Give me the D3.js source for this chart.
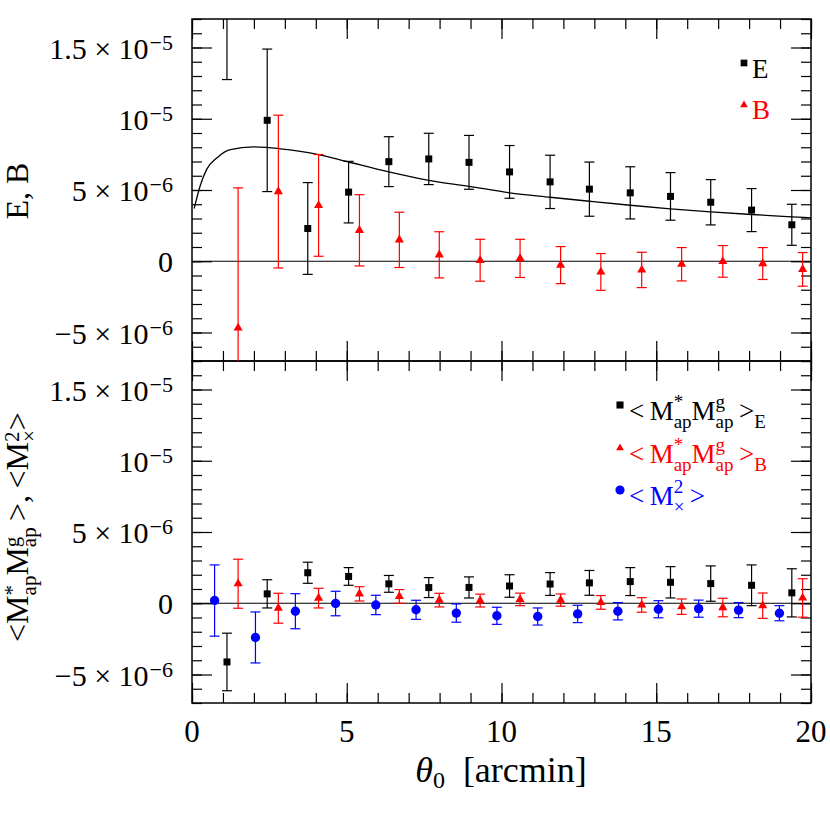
<!DOCTYPE html>
<html lang="en">
<head>
<meta charset="utf-8">
<title>E / B aperture mass</title>
<script src="https://cdn.jsdelivr.net/npm/d3@7"></script>
<style>
  body { margin: 0; background: #fff; }
  svg text { font-family: "Liberation Serif", "Times New Roman", serif; fill: #000; }
</style>
</head>
<body>
<div id="chart"></div>
<script>
// all signal values are in units of 1e-6

// x positions (theta_0, arcmin)
const thetaE = [1.13, 2.43, 3.74, 5.06, 6.36, 7.65, 8.95, 10.26, 11.57, 12.84, 14.16, 15.46, 16.76, 18.08, 19.38];
const thetaB = [1.49, 2.79, 4.09, 5.41, 6.70, 7.99, 9.31, 10.60, 11.91, 13.21, 14.53, 15.82, 17.15, 18.44, 19.73];
const thetaX = [0.73, 2.05, 3.34, 4.64, 5.94, 7.24, 8.54, 9.85, 11.17, 12.46, 13.76, 15.07, 16.37, 17.66, 18.98];

// top panel: E and B modes
const topE    = [21.0, 9.89, 2.30, 4.85, 6.99, 7.18, 6.94, 6.27, 5.57, 5.06, 4.80, 4.55, 4.14, 3.59, 2.56];
const topEerr = [8.25, 5.00, 3.22, 2.16, 1.75, 1.80, 1.89, 1.85, 1.87, 1.90, 1.83, 1.67, 1.59, 1.51, 1.44];
const topB    = [-4.68, 4.89, 3.92, 2.17, 1.50, 0.45, 0.07, 0.20, -0.27, -0.75, -0.61, -0.21, -0.01, -0.16, -0.57];
const topBerr = [9.83, 5.36, 3.57, 2.50, 1.94, 1.62, 1.47, 1.34, 1.30, 1.29, 1.24, 1.17, 1.11, 1.12, 1.18];

// model curve (top panel)
const modelX = [0.07, 0.26, 0.47, 0.80, 1.24, 1.98, 2.41, 2.79, 4.09, 5.00, 6.36, 7.65, 8.95, 10.26, 11.57, 12.84, 14.16, 15.46, 16.76, 18.08, 19.38, 20.0];
const modelY = [3.70, 5.26, 6.43, 7.25, 7.84, 8.03, 7.99, 7.91, 7.49, 7.00, 6.27, 5.68, 5.26, 4.80, 4.49, 4.21, 3.93, 3.68, 3.47, 3.28, 3.12, 3.04];

// bottom panel: cross terms and B-mode
const botE    = [-4.12, 0.66, 2.14, 1.88, 1.36, 1.10, 1.11, 1.21, 1.35, 1.43, 1.52, 1.47, 1.38, 1.26, 0.73];
const botEerr = [2.02, 0.99, 0.74, 0.62, 0.59, 0.70, 0.74, 0.79, 0.80, 0.87, 0.98, 1.10, 1.24, 1.43, 1.69];
const botB    = [1.37, -0.35, 0.36, 0.66, 0.48, 0.22, 0.19, 0.27, 0.22, 0.06, -0.12, -0.24, -0.30, -0.17, 0.37];
const botBerr = [1.72, 1.05, 0.69, 0.50, 0.48, 0.48, 0.45, 0.44, 0.43, 0.48, 0.51, 0.54, 0.65, 0.89, 1.35];
const botX    = [0.19, -2.40, -0.56, -0.02, -0.12, -0.46, -0.69, -0.88, -0.93, -0.75, -0.56, -0.42, -0.38, -0.48, -0.70];
const botXerr = [2.50, 1.79, 1.23, 0.86, 0.68, 0.67, 0.64, 0.60, 0.60, 0.61, 0.61, 0.60, 0.60, 0.53, 0.53];

// tick labels
const xTickVals = [0, 5, 10, 15, 20];
const yTickVals = [-5, 0, 5, 10, 15];
const yTickMant = ["\u22125\u2005\u00d7\u200510", "0", "5\u2005\u00d7\u200510", "10", "1.5\u2005\u00d7\u200510"];
const yTickExp  = ["\u22126", "", "\u22126", "\u22125", "\u22125"];

const W = 830, H = 830;
const left = 192, right = 811;
const panels = [{top: 19, bottom: 361}, {top: 361, bottom: 703}];

const svg = d3.select("#chart").append("svg")
  .attr("width", W).attr("height", H);

const x = d3.scaleLinear().domain([0, 20]).range([left, right]);

// writes a math-ish label with stacked super/subscripts as tspans
function mathLabel(text, parts, fs, sfs, up, down) {
  let cur = 0;
  parts.forEach(p => {
    if (typeof p === "string") {
      text.append("tspan").attr("dy", -cur).style("font-size", fs + "px").text(p);
      cur = 0;
    } else {
      let w = 0;
      if (p.sup) {
        const t = text.append("tspan").attr("dy", -up - cur)
          .style("font-size", sfs + "px").text(p.sup);
        cur = -up;
        w = t.node().getComputedTextLength();
      }
      if (p.sub) {
        text.append("tspan").attr("dx", -w).attr("dy", down - cur)
          .style("font-size", sfs + "px").text(p.sub);
        cur = down;
      }
    }
  });
}

const ys = panels.map((p, i) => {
  const y = d3.scaleLinear().domain([-7, 17]).range([p.bottom, p.top]);

  svg.append("clipPath").attr("id", "clip" + i)
    .append("rect").attr("x", left).attr("y", p.top)
    .attr("width", right - left).attr("height", p.bottom - p.top);

  // ticks, all pointing inward
  const tk = (axis, tr) => svg.append("g").attr("transform", tr).call(axis)
    .call(g => g.select(".domain").remove())
    .call(g => g.selectAll("line").attr("stroke", "#000").attr("stroke-width", 1.2));

  tk(d3.axisBottom(x).tickValues(xTickVals).tickSize(-20).tickFormat(""), `translate(0,${p.bottom})`);
  tk(d3.axisBottom(x).tickValues(d3.range(0, 21, 1)).tickSize(-10).tickFormat(""), `translate(0,${p.bottom})`);
  tk(d3.axisTop(x).tickValues(xTickVals).tickSize(-20).tickFormat(""), `translate(0,${p.top})`);
  tk(d3.axisTop(x).tickValues(d3.range(0, 21, 1)).tickSize(-10).tickFormat(""), `translate(0,${p.top})`);
  tk(d3.axisLeft(y).tickValues(yTickVals).tickSize(-20).tickFormat(""), `translate(${left},0)`);
  tk(d3.axisLeft(y).tickValues(d3.range(-7, 18, 1)).tickSize(-10).tickFormat(""), `translate(${left},0)`);
  tk(d3.axisRight(y).tickValues(yTickVals).tickSize(-20).tickFormat(""), `translate(${right},0)`);
  tk(d3.axisRight(y).tickValues(d3.range(-7, 18, 1)).tickSize(-10).tickFormat(""), `translate(${right},0)`);

  // y tick labels
  yTickVals.forEach((v, k) => {
    const t = svg.append("text").attr("x", 173).attr("y", y(v) + 11)
      .attr("text-anchor", "end").style("font-size", "30px");
    t.append("tspan").text(yTickMant[k]);
    if (yTickExp[k]) t.append("tspan").attr("dx", 1).attr("dy", -9).style("font-size", "22px").text(yTickExp[k]);
  });

  // zero line
  svg.append("line").attr("x1", left).attr("x2", right)
    .attr("y1", y(0)).attr("y2", y(0))
    .attr("stroke", "#000").attr("stroke-width", 1.2);

  svg.append("rect").attr("x", left).attr("y", p.top)
    .attr("width", right - left).attr("height", p.bottom - p.top)
    .attr("fill", "none").attr("stroke", "#000").attr("stroke-width", 1.5);
  return y;
});

function series(i, xs, vals, errs, color, type, size) {
  const y = ys[i];
  const g = svg.append("g").attr("clip-path", `url(#clip${i})`);
  const cap = 5;
  xs.forEach((xv, k) => {
    const lo = y(vals[k] - errs[k]), hi = y(vals[k] + errs[k]), cx = x(xv);
    g.append("line").attr("x1", cx).attr("x2", cx).attr("y1", lo).attr("y2", hi)
      .attr("stroke", color).attr("stroke-width", 1.2);
    [lo, hi].forEach(yy => g.append("line")
      .attr("x1", cx - cap).attr("x2", cx + cap).attr("y1", yy).attr("y2", yy)
      .attr("stroke", color).attr("stroke-width", 1.2));
  });
  g.selectAll(null).data(vals).join("path")
    .attr("d", d3.symbol().type(type).size(size))
    .attr("transform", (d, k) => `translate(${x(xs[k])},${y(d)})`)
    .attr("fill", color);
}

// model curve
svg.append("path")
  .datum(modelX.map((v, k) => [v, modelY[k]]))
  .attr("clip-path", "url(#clip0)")
  .attr("fill", "none").attr("stroke", "#000").attr("stroke-width", 1.3)
  .attr("d", d3.line().x(d => x(d[0])).y(d => ys[0](d[1])).curve(d3.curveMonotoneX));

series(0, thetaB, topB, topBerr, "#ff0000", d3.symbolTriangle, 36);
series(0, thetaE, topE, topEerr, "#000000", d3.symbolSquare, 49);
series(1, thetaX, botX, botXerr, "#0000ff", d3.symbolCircle, 69);
series(1, thetaB, botB, botBerr, "#ff0000", d3.symbolTriangle, 36);
series(1, thetaE, botE, botEerr, "#000000", d3.symbolSquare, 49);

// x tick labels
xTickVals.forEach(v => svg.append("text").attr("x", x(v)).attr("y", 742)
  .attr("text-anchor", "middle").style("font-size", "31px").text(v));

// x label
const xl = svg.append("text").attr("x", 501).attr("y", 782).attr("text-anchor", "middle");
xl.append("tspan").style("font-size", "36px").style("font-style", "italic").text("\u03b8");
xl.append("tspan").attr("dy", 6).style("font-size", "24px").text("0");
xl.append("tspan").attr("dy", -6).style("font-size", "36px").text("\u2002[arcmin]");

// y labels
svg.append("text").attr("transform", "translate(28,191) rotate(-90)")
  .attr("text-anchor", "middle").style("font-size", "32px").text("E, B");

const yl = svg.append("text").attr("transform", "translate(28,527) rotate(-90)")
  .attr("text-anchor", "middle");
mathLabel(yl, ["<", "M", {sup: "*", sub: "ap"}, "M", {sup: "g", sub: "ap"}, "\u2009>", ",\u2009",
  "<", "M", {sup: "2", sub: "\u00d7"}, ">"], 32, 21, 9, 8);

// legend, top panel
svg.append("path").attr("d", d3.symbol().type(d3.symbolSquare).size(45)())
  .attr("transform", "translate(744,63)").attr("fill", "#000");
svg.append("text").attr("x", 752).attr("y", 78).style("font-size", "27px").text("E");
svg.append("path").attr("d", d3.symbol().type(d3.symbolTriangle).size(26)())
  .attr("transform", "translate(744,105)").attr("fill", "#ff0000");
svg.append("text").attr("x", 752).attr("y", 119).style("font-size", "27px")
  .style("fill", "#ff0000").text("B");

// legend, bottom panel
const legRows = [
  {y: 420, color: "#000000", type: d3.symbolSquare, size: 50, parts: ["<\u2009", "M", {sup: "*", sub: "ap"}, "M", {sup: "g", sub: "ap"}, "\u2009>", {sub: "E"}]},
  {y: 463, color: "#ff0000", type: d3.symbolTriangle, size: 26, parts: ["<\u2009", "M", {sup: "*", sub: "ap"}, "M", {sup: "g", sub: "ap"}, "\u2009>", {sub: "B"}]},
  {y: 505, color: "#0000ff", type: d3.symbolCircle, size: 66, parts: ["<\u2009", "M", {sup: "2", sub: "\u00d7"}, "\u2009>"]}
];
legRows.forEach(r => {
  svg.append("path").attr("d", d3.symbol().type(r.type).size(r.size)())
    .attr("transform", `translate(620,${r.y - 15})`).attr("fill", r.color);
  const t = svg.append("text").attr("x", 629).attr("y", r.y);
  mathLabel(t, r.parts, 27, 19, 12, 8);
  t.selectAll("tspan").style("fill", r.color);
});
</script>
</body>
</html>
